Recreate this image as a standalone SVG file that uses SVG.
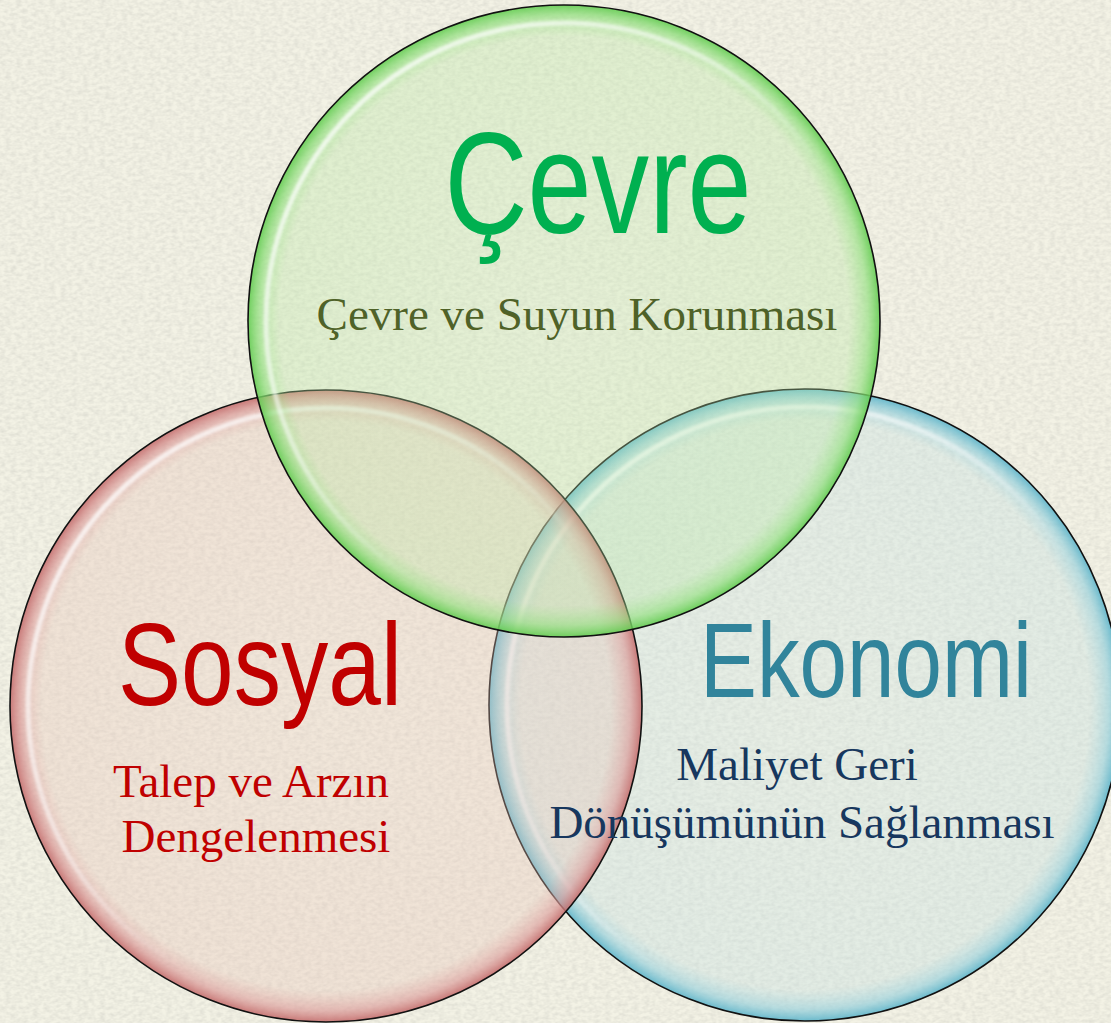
<svg xmlns="http://www.w3.org/2000/svg" width="1111" height="1023" viewBox="0 0 1111 1023">
<style>
.title{font-family:"Liberation Sans",Arial,sans-serif;text-anchor:middle}
.sub{font-family:"Liberation Serif","Times New Roman",serif;text-anchor:middle;font-size:47px}
.edge{fill:none;stroke:#111;stroke-width:1.6}
.hl{fill:none;stroke-width:5;filter:url(#soft)}
</style>
<defs>
<filter id="tex" x="0" y="0" width="100%" height="100%">
<feTurbulence type="fractalNoise" baseFrequency="0.18 0.3" numOctaves="2" seed="4"/>
<feColorMatrix type="matrix" values="0 0 0 0 0.55  0 0 0 0 0.55  0 0 0 0 0.5  0.7 0 0 0 -0.22"/>
</filter>
<filter id="soft" x="-10%" y="-10%" width="120%" height="120%">
<feGaussianBlur stdDeviation="1.8"/>
</filter>
<radialGradient id="gG" cx="0.5" cy="0.5" r="0.5">
<stop offset="0" stop-color="#c4eab0" stop-opacity="0.28"/>
<stop offset="0.9" stop-color="#b8e8a2" stop-opacity="0.33"/>
<stop offset="0.962" stop-color="#92e07e" stop-opacity="0.65"/>
<stop offset="1" stop-color="#62cc50" stop-opacity="0.9"/>
</radialGradient>
<radialGradient id="gR" cx="0.5" cy="0.5" r="0.5">
<stop offset="0" stop-color="#eccabe" stop-opacity="0.28"/>
<stop offset="0.9" stop-color="#e8c2b6" stop-opacity="0.33"/>
<stop offset="0.962" stop-color="#dc9c9a" stop-opacity="0.65"/>
<stop offset="1" stop-color="#c46c6c" stop-opacity="0.9"/>
</radialGradient>
<radialGradient id="gB" cx="0.5" cy="0.5" r="0.5">
<stop offset="0" stop-color="#cae4e4" stop-opacity="0.28"/>
<stop offset="0.9" stop-color="#c0dfe2" stop-opacity="0.33"/>
<stop offset="0.962" stop-color="#96d0dc" stop-opacity="0.65"/>
<stop offset="1" stop-color="#5cb4ca" stop-opacity="0.9"/>
</radialGradient>
<linearGradient id="hlg" x1="0" y1="0" x2="1" y2="1">
<stop offset="0" stop-color="#fff" stop-opacity="0.9"/>
<stop offset="0.4" stop-color="#fff" stop-opacity="0.5"/>
<stop offset="0.6" stop-color="#fff" stop-opacity="0"/>
</linearGradient>
</defs>
<rect width="1111" height="1023" fill="#f3f2e5"/>
<rect width="1111" height="1023" filter="url(#tex)"/>
<g id="ekonomi-circle">
<circle cx="805" cy="705" r="316" fill="url(#gB)"/>
<circle cx="805" cy="705" r="298" class="hl" stroke="url(#hlg)"/>
<circle cx="805" cy="705" r="316" class="edge"/>
</g>
<g id="sosyal-circle">
<circle cx="326" cy="706" r="316" fill="url(#gR)"/>
<circle cx="326" cy="706" r="298" class="hl" stroke="url(#hlg)"/>
<circle cx="326" cy="706" r="316" class="edge"/>
</g>
<g id="cevre-circle">
<circle cx="564" cy="321" r="316" fill="url(#gG)"/>
<circle cx="564" cy="321" r="298" class="hl" stroke="url(#hlg)"/>
<circle cx="564" cy="321" r="316" class="edge"/>
</g>
<g id="connectors"></g>
<g id="cevre-text">
<text class="title" x="598" y="233" font-size="145" fill="#00b050" textLength="307" lengthAdjust="spacingAndGlyphs">Çevre</text>
<text class="sub" x="577" y="330" fill="#4f6228">Çevre ve Suyun Korunması</text>
</g>
<g id="sosyal-text">
<text class="title" x="260" y="705" font-size="116" fill="#c00000" textLength="284" lengthAdjust="spacingAndGlyphs">Sosyal</text>
<text class="sub" x="251" y="797" fill="#c00000">Talep ve Arzın</text>
<text class="sub" x="256" y="852" fill="#c00000">Dengelenmesi</text>
</g>
<g id="ekonomi-text">
<text class="title" x="866" y="697" font-size="106" fill="#31849b" textLength="332" lengthAdjust="spacingAndGlyphs">Ekonomi</text>
<text class="sub" x="797" y="780" fill="#17375e">Maliyet Geri</text>
<text class="sub" x="802" y="838" fill="#17375e">Dönüşümünün Sağlanması</text>
</g>
</svg>
